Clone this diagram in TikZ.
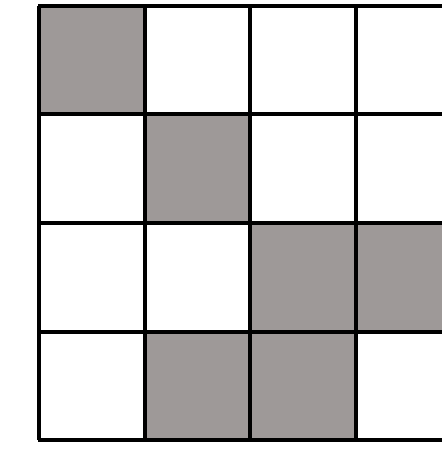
\documentclass[tikz,border=0pt]{standalone}
\usepackage{xcolor}
\usepackage{tikz}
\definecolor{cellgray}{RGB}{158,153,152}
\tikzstyle{cell} = [draw=black, line width=2pt]
\tikzstyle{filled} = [fill=cellgray]

\begin{document}
\begin{tikzpicture}[x=0.5pt, y=-0.5pt]
    \useasboundingbox (0,0) rectangle (442,454);
    \clip (0,0) rectangle (442,454);
    % shaded cells (column, row)
    \foreach \c/\r in {0/0, 1/1, 2/2, 3/2, 1/3, 2/3}
        \fill[filled] (39+105.5*\c, 6+108.5*\r) rectangle ++(105.5,108.5);
    % grid
    \foreach \c in {0,...,4}
        \draw[cell] (39+105.5*\c, 6) -- (39+105.5*\c, 440);
    \foreach \r in {0,...,4}
        \draw[cell] (38, 6+108.5*\r) -- (470, 6+108.5*\r);
\end{tikzpicture}
\end{document}
